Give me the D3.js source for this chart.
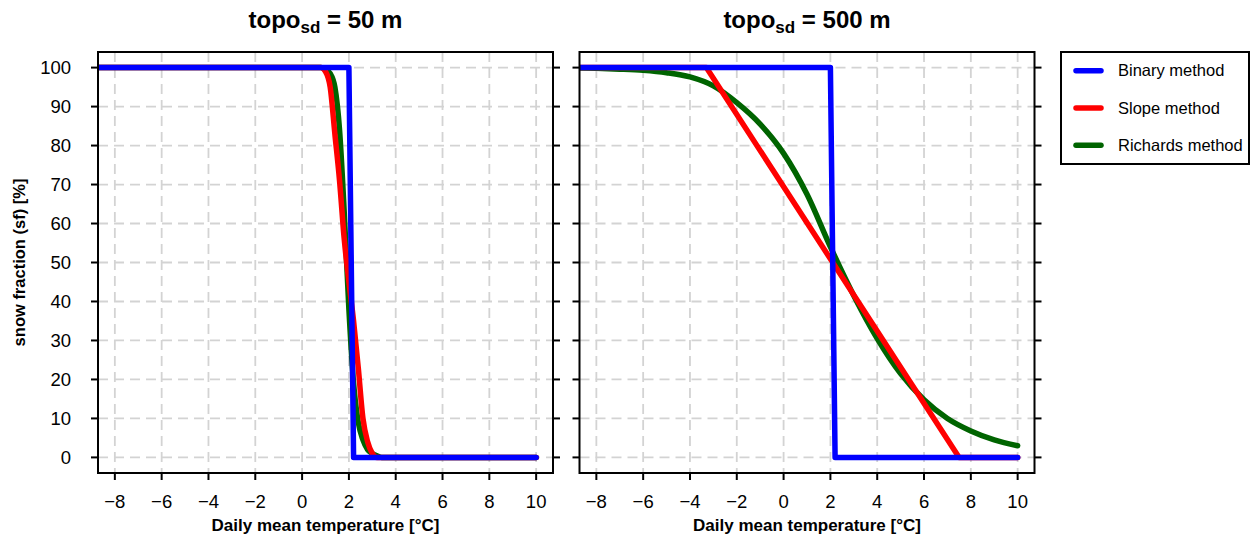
<!DOCTYPE html>
<html>
<head>
<meta charset="utf-8">
<script src="https://cdn.jsdelivr.net/npm/d3@7"></script>
<style>
  body { margin: 0; background: #fff; }
  svg { font-family: "Liberation Sans", Arial, Helvetica, sans-serif; }
  .grid line { stroke: #d3d3d3; stroke-width: 1.8; stroke-dasharray: 10,6; }
  .frame { fill: none; stroke: #000; stroke-width: 2; }
  .tick-mark { stroke: #000; stroke-width: 2; }
  .curve { fill: none; stroke-width: 5.5; stroke-linecap: round; stroke-linejoin: round; }
</style>
</head>
<body>
<svg id="chart" width="1254" height="539"></svg>
<script>
// tick labels
const xTicks = [-8, -6, -4, -2, 0, 2, 4, 6, 8, 10];
const yTicks = [0, 10, 20, 30, 40, 50, 60, 70, 80, 90, 100];

// topo_sd = 50 m
const binary50Temp = [-10, 2.0, 2.2, 10];
const binary50Frac = [100, 100, 0, 0];
const slope50Temp = [-10, 0.8, 1.0, 1.2, 1.4, 1.6, 1.8, 2.0, 2.2, 2.4, 2.6, 2.8, 3.0, 3.2, 10];
const slope50Frac = [100, 100, 99, 95, 83, 71, 56, 45, 35, 23, 10, 4, 1, 0, 0];
const richards50Temp = [-10, 0.8, 1.0, 1.2, 1.4, 1.6, 1.8, 2.0, 2.2, 2.4, 2.6, 2.8, 3.0, 3.2, 3.4, 10];
const richards50Frac = [100, 100, 99.5, 98.5, 95, 84, 63, 38, 19, 9, 4.5, 2, 1, 0.4, 0, 0];

// topo_sd = 500 m
const binary500Temp = [-10, 2.0, 2.2, 10];
const binary500Frac = [100, 100, 0, 0];
const slope500Temp = [-10, -3.3, 7.5, 10];
const slope500Frac = [100, 100, 0, 0];
const richards500Temp = [-10, -9, -8, -7, -6, -5, -4, -3, -2, -1, 0, 1, 2, 3, 4, 5, 6, 7, 8, 9, 10];
const richards500Frac = [99.95, 99.9, 99.8, 99.6, 99.3, 98.7, 97.6, 95.3, 91, 85.5, 78, 67.5, 54, 41.5, 30.5, 21.5, 14.8, 10, 6.8, 4.5, 3];

const methods = ['Binary method', 'Slope method', 'Richards method'];
const colors = ['#0000ff', '#ff0000', '#006400'];

const zip = (t, f) => t.map((d, i) => ({ t: d, f: f[i] }));

const panels = [
    { sd: '50', left: 98, series: [
        { name: 'Richards method', data: zip(richards50Temp, richards50Frac), smooth: true },
        { name: 'Slope method', data: zip(slope50Temp, slope50Frac), smooth: true },
        { name: 'Binary method', data: zip(binary50Temp, binary50Frac), smooth: false }
    ]},
    { sd: '500', left: 579.5, series: [
        { name: 'Richards method', data: zip(richards500Temp, richards500Frac), smooth: true },
        { name: 'Slope method', data: zip(slope500Temp, slope500Frac), smooth: false },
        { name: 'Binary method', data: zip(binary500Temp, binary500Frac), smooth: false }
    ]}
];

const plotW = 455, plotTop = 52, plotBottom = 473;
const color = d3.scaleOrdinal().domain(methods).range(colors);

const svg = d3.select('#chart');

const y = d3.scaleLinear().domain([-4, 104]).range([plotBottom, plotTop]);

panels.forEach((p, pi) => {
    const x = d3.scaleLinear().domain([-8.72, 10.72]).range([p.left, p.left + plotW]);
    const g = svg.append('g');

    // clip region for the curves
    const clipId = 'clip' + pi;
    svg.append('clipPath').attr('id', clipId)
        .append('rect')
        .attr('x', p.left).attr('y', plotTop)
        .attr('width', plotW).attr('height', plotBottom - plotTop);

    // dashed grid
    const grid = g.append('g').attr('class', 'grid');
    grid.selectAll('.gx').data(xTicks).enter().append('line')
        .attr('x1', d => x(d)).attr('x2', d => x(d))
        .attr('y1', plotTop).attr('y2', plotBottom);
    grid.selectAll('.gy').data(yTicks).enter().append('line')
        .attr('x1', p.left).attr('x2', p.left + plotW)
        .attr('y1', d => y(d)).attr('y2', d => y(d));

    // curves
    const lines = g.append('g').attr('clip-path', 'url(#' + clipId + ')');
    p.series.forEach(s => {
        const line = d3.line()
            .x(d => x(d.t))
            .y(d => y(d.f))
            .curve(s.smooth ? d3.curveMonotoneX : d3.curveLinear);
        lines.append('path')
            .attr('class', 'curve')
            .attr('stroke', color(s.name))
            .attr('d', line(s.data));
    });

    // frame
    g.append('rect').attr('class', 'frame')
        .attr('x', p.left).attr('y', plotTop)
        .attr('width', plotW).attr('height', plotBottom - plotTop);

    // bottom ticks + labels
    const xAxis = g.append('g');
    xAxis.selectAll('line').data(xTicks).enter().append('line')
        .attr('class', 'tick-mark')
        .attr('x1', d => x(d)).attr('x2', d => x(d))
        .attr('y1', plotBottom).attr('y2', plotBottom + 7);
    xAxis.selectAll('text').data(xTicks).enter().append('text')
        .attr('x', d => x(d)).attr('y', 508)
        .attr('text-anchor', 'middle')
        .attr('font-size', 18.5)
        .text(d => d3.format('d')(d));

    // left and right ticks
    [p.left, p.left + plotW].forEach((edge, k) => {
        g.append('g').selectAll('line').data(yTicks).enter().append('line')
            .attr('class', 'tick-mark')
            .attr('x1', edge).attr('x2', k === 0 ? edge - 7 : edge + 7)
            .attr('y1', d => y(d)).attr('y2', d => y(d));
    });

    if (pi === 0) {
        g.append('g').selectAll('text').data(yTicks).enter().append('text')
            .attr('x', 71).attr('y', d => y(d))
            .attr('dy', '0.36em')
            .attr('text-anchor', 'end')
            .attr('font-size', 18.5)
            .text(d => d);
    }

    // x label
    g.append('text')
        .attr('x', p.left + plotW / 2).attr('y', 531)
        .attr('text-anchor', 'middle')
        .attr('font-size', 17).attr('font-weight', 'bold')
        .text('Daily mean temperature [°C]');

    // title with subscript
    const title = g.append('text')
        .attr('x', p.left + plotW / 2).attr('y', 28)
        .attr('text-anchor', 'middle')
        .attr('font-size', 24).attr('font-weight', 'bold');
    title.append('tspan').text('topo');
    title.append('tspan').attr('font-size', 17).attr('dy', 5).text('sd');
    title.append('tspan').attr('dy', -5).text(' = ' + p.sd + ' m');
});

// y label
svg.append('text')
    .attr('transform', 'translate(25,' + (plotTop + plotBottom) / 2 + ') rotate(-90)')
    .attr('text-anchor', 'middle')
    .attr('font-size', 16.5).attr('font-weight', 'bold')
    .text('snow fraction (sf) [%]');

// legend
const legend = svg.append('g');
legend.append('rect').attr('class', 'frame')
    .attr('x', 1061).attr('y', 52).attr('width', 188).attr('height', 112);
const ly = d3.scalePoint().domain(methods).range([70.7, 145.3]);
const items = legend.selectAll('.item').data(methods).enter().append('g');
items.append('line')
    .attr('x1', 1076).attr('x2', 1101)
    .attr('y1', d => ly(d)).attr('y2', d => ly(d))
    .attr('stroke', d => color(d))
    .attr('stroke-width', 5.5)
    .attr('stroke-linecap', 'round');
items.append('text')
    .attr('x', 1118).attr('y', d => ly(d))
    .attr('dy', '0.35em')
    .attr('font-size', 16.5)
    .text(d => d);
</script>
</body>
</html>
